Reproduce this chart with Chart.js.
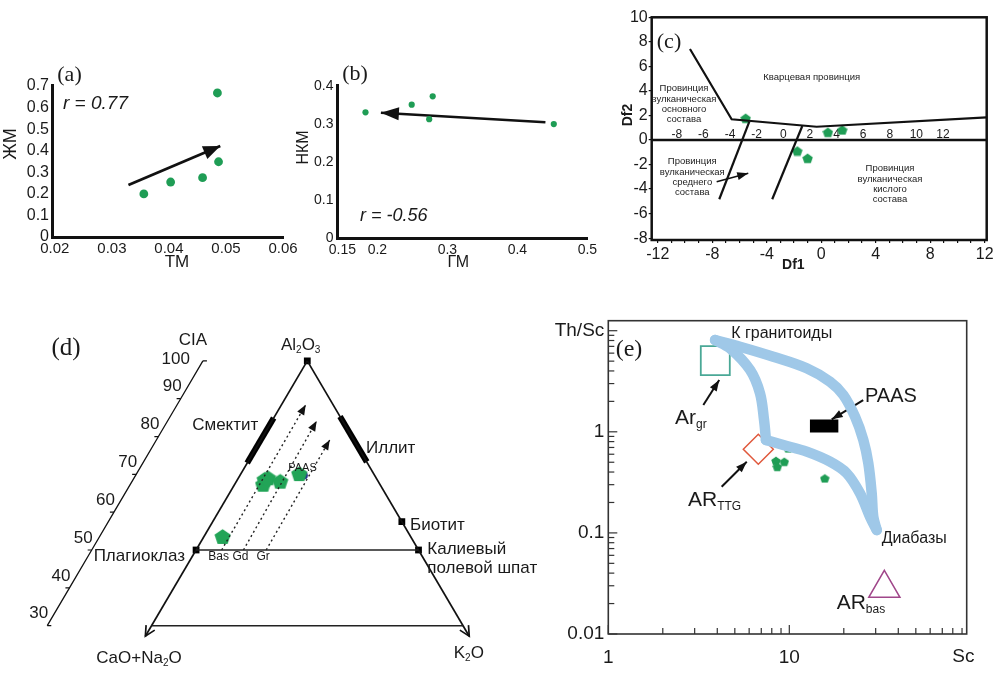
<!DOCTYPE html>
<html><head><meta charset="utf-8">
<script src="https://cdn.jsdelivr.net/npm/chart.js@4.4.1/dist/chart.umd.min.js"></script>
<style>
html,body{margin:0;padding:0;background:#fff;width:1004px;height:686px;overflow:hidden}
canvas{position:absolute;left:0;top:0}
</style></head><body>
<canvas id="ca" width="1004" height="686"></canvas>
<canvas id="cb" width="1004" height="686"></canvas>
<canvas id="cc" width="1004" height="686"></canvas>
<canvas id="cd" width="1004" height="686"></canvas>
<canvas id="ce" width="1004" height="686"></canvas>
<script>
// ================= DATA =================
// (a) ЖМ vs ТМ
const aTM = [0.0356, 0.0403, 0.0459, 0.0487, 0.0485];
const aZM = [0.200, 0.255, 0.275, 0.349, 0.668];
const aTrendTM = [0.0329, 0.0490];
const aTrendZM = [0.241, 0.422];
const aXTicks = [0.02, 0.03, 0.04, 0.05, 0.06];
const aYTicks = [0, 0.1, 0.2, 0.3, 0.4, 0.5, 0.6, 0.7];
// (b) НКМ vs ГМ
const bGM = [0.183, 0.249, 0.279, 0.274, 0.452];
const bNKM = [0.331, 0.351, 0.373, 0.313, 0.300];
const bTrendGM = [0.440, 0.205];
const bTrendNKM = [0.305, 0.330];
const bXTicks = [0.15, 0.2, 0.3, 0.4, 0.5];
const bYTicks = [0, 0.1, 0.2, 0.3, 0.4];
// (c) Df1 / Df2
const cDf1 = [-5.55, 0.49, 1.54, -1.76, -1.00];
const cDf2 = [1.77, 0.63, 0.82, -0.90, -1.49];
const cUpperDf1 = [-9.64, -6.58, -0.34, 12.15];
const cUpperDf2 = [7.42, 1.69, 1.08, 1.85];
const cMidDf1 = [-5.28, -7.49];
const cMidDf2 = [1.49, -4.83];
const cRightDf1 = [-1.39, -3.60];
const cRightDf2 = [1.14, -4.83];
const cArrowDf1 = [-7.68, -5.36];
const cArrowDf2 = [-3.40, -2.71];
const cZeroDf1 = [-12.45, 12.15];
const cZeroDf2 = [0, 0];
const cXTicks = [-12,-11,-10,-9,-8,-7,-6,-5,-4,-3,-2,-1,0,1,2,3,4,5,6,7,8,9,10,11,12];
const cYTicks = [-8, -6, -4, -2, 0, 2, 4, 6, 8, 10];
const cInnerTicks = [-8, -6, -4, -2, 0, 2, 4, 6, 8, 10, 12];
// (d) A–CN–K (x: position along CN–K, y: CIA)
const dSampleU = [22.8, 36.3, 35.8, 37.4, 41.3, 47.4];
const dSampleCIA = [53.6, 68.7, 67.4, 69.1, 68.2, 70.2];
const dPaasU = [48.9];
const dPaasCIA = [69.7];
const dLeftU = [50, -2.0];  const dLeftCIA = [100, 27.2];
const dRightU = [50, 102.0]; const dRightCIA = [100, 27.2];
const dBaseU = [0, 100];    const dBaseCIA = [30, 30];
const dFeldU = [14.29, 85.71]; const dFeldCIA = [50, 50];
const dMineralU = [50, 14.29, 85.71, 80.36];
const dMineralCIA = [100, 50, 50, 57.5];
const dSmectiteU = [30.7, 39.2]; const dSmectiteCIA = [73.0, 84.9];
const dIlliteU = [69.1, 60.5];   const dIlliteCIA = [73.3, 85.3];
const dTrendStartU = [22.5, 29.5, 36.8];
const dTrendStartCIA = [50, 50, 50];
const dTrendEndU = [49.5, 53.0, 57.2];
const dTrendEndCIA = [88.4, 84.1, 79.1];
const dTrendNames = ['Bas', 'Gd', 'Gr'];
const dCiaTicks = [30, 40, 50, 60, 70, 80, 90, 100];
// (e) Th/Sc vs Sc
const eSc = [9.87, 8.44, 9.38, 8.58, 15.7];
const eThSc = [0.685, 0.516, 0.505, 0.450, 0.346];
const eOuterSc = [3.89, 5.34, 8.16, 12.48, 16.79, 19.88, 23.07, 25.64, 27.32, 28.52, 29.1, 30.4];
const eOuterThSc = [8.09, 6.95, 5.53, 4.25, 3.13, 2.31, 1.41, 0.830, 0.488, 0.2464, 0.1446, 0.1068];
const eInnerSc = [3.89, 4.70, 6.07, 6.89, 7.25, 7.43];
const eInnerThSc = [8.09, 6.70, 4.09, 2.40, 1.31, 0.830];
const eLowerSc = [7.43, 9.27, 12.48, 16.79, 20.75, 24.58, 27.92, 30.4];
const eLowerThSc = [0.830, 0.740, 0.636, 0.506, 0.389, 0.2464, 0.1446, 0.1068];
const eArgrSc = [3.90];  const eArgrThSc = [5.07];
const eTTGSc = [6.74];   const eTTGThSc = [0.673];
const eBasSc = [33.5];   const eBasThSc = [0.0283];
const ePaasSc = [13.0, 18.66]; const ePaasThSc = [1.14, 1.14];
const eArrGrSc = [3.35, 4.10];   const eArrGrThSc = [1.84, 3.25];
const eArrTTGSc = [4.23, 5.82];  const eArrTTGThSc = [0.286, 0.506];
const eArrPaasSc = [25.6, 17.15]; const eArrPaasThSc = [2.06, 1.33];
const eXTicks = [1,2,3,4,5,6,7,8,9,10,20,30,40,50,60,70,80,90];
const eYTicks = [0.01,0.02,0.03,0.04,0.05,0.06,0.07,0.08,0.09,0.1,0.2,0.3,0.4,0.5,0.6,0.7,0.8,0.9,1,2,3,4,5,6,7,8,9,10];
const eXLabels = {1: '1', 10: '10'};
const eYLabels = {0.01: '0.01', 0.1: '0.1', 1: '1', 10: 'Th/Sc'};

// ================= HELPERS =================
const SANS = '"Liberation Sans", Arial, Helvetica, sans-serif';
const SERIF = '"Liberation Serif", "Times New Roman", serif';
const GREEN = '#1f9d55';
const INK = '#1a1a1a';
const xy = (xs, ys) => xs.map((x, i) => ({x: x, y: ys[i]}));
const fixedTicks = arr => function (s) { s.ticks = arr.map(v => ({value: v})); };

function pentagon(size, color) {
  const c = document.createElement('canvas');
  c.width = c.height = size;
  const g = c.getContext('2d');
  const r = size / 2;
  g.fillStyle = color;
  g.beginPath();
  for (let k = 0; k < 5; k++) {
    const a = -Math.PI / 2 + k * 2 * Math.PI / 5;
    const px = r + r * Math.cos(a), py = r + r * 0.1 + r * 0.95 * Math.sin(a);
    if (k) g.lineTo(px, py); else g.moveTo(px, py);
  }
  g.closePath(); g.fill();
  return c;
}

function makeText(items) {
  return {
    id: 'txt',
    afterDraw(chart) {
      const ctx = chart.ctx;
      items.forEach(it => {
        let x = it.x, y = it.y;
        if (it.data) {
          x = chart.scales.x.getPixelForValue(it.x) + (it.dx || 0);
          y = chart.scales.y.getPixelForValue(it.y) + (it.dy || 0);
        }
        const size = it.size || 14;
        const fam = it.serif ? SERIF : SANS;
        const style = (it.italic ? 'italic ' : '') + (it.bold ? 'bold ' : '');
        const parts = Array.isArray(it.t) ? it.t : [[it.t, 0]];
        ctx.save();
        ctx.fillStyle = it.color || INK;
        ctx.textBaseline = 'middle';
        ctx.textAlign = 'left';
        ctx.translate(x, y);
        if (it.rot) ctx.rotate(it.rot);
        let total = 0;
        const ws = parts.map(p => {
          ctx.font = style + (p[1] ? Math.round(size * 0.58) : size) + 'px ' + fam;
          const w = ctx.measureText(p[0]).width; total += w; return w;
        });
        let cx = it.align === 'right' ? -total : (it.align === 'left' ? 0 : -total / 2);
        parts.forEach((p, i) => {
          ctx.font = style + (p[1] ? Math.round(size * 0.58) : size) + 'px ' + fam;
          ctx.fillText(p[0], cx, p[1] ? size * 0.32 : 0);
          cx += ws[i];
        });
        ctx.restore();
      });
    }
  };
}

const arrowPlugin = {
  id: 'arrowheads',
  afterDatasetsDraw(chart) {
    const ctx = chart.ctx;
    chart.data.datasets.forEach((ds, i) => {
      if (!ds.head) return;
      const pts = chart.getDatasetMeta(i).data;
      const a = pts[pts.length - 2], b = pts[pts.length - 1];
      const ang = Math.atan2(b.y - a.y, b.x - a.x);
      const L = ds.head.len, W = ds.head.w / 2;
      const bx = b.x - L * Math.cos(ang), by = b.y - L * Math.sin(ang);
      const p1 = [bx + W * Math.sin(ang), by - W * Math.cos(ang)];
      const p2 = [bx - W * Math.sin(ang), by + W * Math.cos(ang)];
      ctx.save();
      ctx.fillStyle = ctx.strokeStyle = ds.head.color || ds.borderColor;
      ctx.beginPath();
      if (ds.head.open) {
        ctx.lineWidth = ds.borderWidth; ctx.setLineDash([]);
        ctx.moveTo(p1[0], p1[1]); ctx.lineTo(b.x, b.y); ctx.lineTo(p2[0], p2[1]); ctx.stroke();
      } else {
        ctx.moveTo(b.x, b.y); ctx.lineTo(p1[0], p1[1]); ctx.lineTo(p2[0], p2[1]); ctx.closePath(); ctx.fill();
      }
      ctx.restore();
    });
  }
};

function makeFrame(width, color) {
  return {
    id: 'frame',
    afterDatasetsDraw(chart) {
      const {left, top, right, bottom} = chart.chartArea;
      const ctx = chart.ctx;
      ctx.save(); ctx.lineWidth = width; ctx.strokeStyle = color;
      ctx.strokeRect(left, top, right - left, bottom - top); ctx.restore();
    }
  };
}

const innerTicks = {
  id: 'innerTicks',
  afterDraw(chart) {
    const ctx = chart.ctx, ca = chart.chartArea;
    ctx.save(); ctx.strokeStyle = '#333'; ctx.lineWidth = 1.2;
    chart.scales.x.ticks.forEach(t => {
      const px = chart.scales.x.getPixelForValue(t.value);
      const len = eXLabels[t.value] ? 9 : 6;
      ctx.beginPath(); ctx.moveTo(px, ca.bottom); ctx.lineTo(px, ca.bottom - len); ctx.stroke();
    });
    chart.scales.y.ticks.forEach(t => {
      const py = chart.scales.y.getPixelForValue(t.value);
      const len = eYLabels[t.value] ? 9 : 6;
      ctx.beginPath(); ctx.moveTo(ca.left, py); ctx.lineTo(ca.left + len, py); ctx.stroke();
    });
    ctx.restore();
  }
};

function opts(pad, scales) {
  return {
    responsive: false, maintainAspectRatio: false, animation: false, devicePixelRatio: 1, events: [],
    layout: {padding: pad},
    plugins: {legend: {display: false}, tooltip: {enabled: false}},
    scales: scales
  };
}
const line = (xs, ys, color, width, extra) => Object.assign({
  data: xy(xs, ys), showLine: true, borderColor: color, borderWidth: width,
  pointRadius: 0, fill: false, tension: 0
}, extra || {});

// ================= (a) =================
new Chart(document.getElementById('ca'), {
  type: 'scatter',
  data: {datasets: [
    {data: xy(aTM, aZM), backgroundColor: GREEN, borderColor: GREEN, pointRadius: 4.4, pointBorderWidth: 0},
    line(aTrendTM, aTrendZM, '#111', 2.8, {head: {len: 17, w: 14}})
  ]},
  options: opts({left: 7, top: 85, right: 721, bottom: 409}, {
    x: {type: 'linear', min: 0.0195, max: 0.06, afterBuildTicks: fixedTicks(aXTicks), afterFit(s) { s.height = 40; },
        grid: {display: false, drawTicks: false}, border: {display: true, color: '#111', width: 3},
        ticks: {padding: 3, autoSkip: false, maxRotation: 0, color: INK, font: {family: SANS, size: 15},
                callback: v => Number(v).toFixed(2)}},
    y: {type: 'linear', min: 0, max: 0.705, afterBuildTicks: fixedTicks(aYTicks), afterFit(s) { s.width = 45; },
        grid: {display: false, drawTicks: false}, border: {display: true, color: '#111', width: 3},
        ticks: {padding: 3, autoSkip: false, color: INK, font: {family: SANS, size: 16},
                callback: v => v === 0 ? '0' : Number(v).toFixed(1)}}
  }),
  plugins: [arrowPlugin, makeText([
    {t: '(a)', x: 69.5, y: 75, size: 22, serif: true},
    {t: 'r = 0.77', x: 63, y: 103.5, size: 19, italic: true, align: 'left'},
    {t: 'ЖМ', x: 11, y: 144, size: 18, rot: -Math.PI / 2},
    {t: 'ТМ', x: 177, y: 262.5, size: 17}
  ])]
});

// ================= (b) =================
new Chart(document.getElementById('cb'), {
  type: 'scatter',
  data: {datasets: [
    {data: xy(bGM, bNKM), backgroundColor: GREEN, borderColor: GREEN, pointRadius: 3.1, pointBorderWidth: 0},
    line(bTrendGM, bTrendNKM, '#111', 2.6, {head: {len: 18, w: 13}})
  ]},
  options: opts({left: 297.5, top: 85.3, right: 416.6, bottom: 407.7}, {
    x: {type: 'linear', min: 0.143, max: 0.5, afterBuildTicks: fixedTicks(bXTicks), afterFit(s) { s.height = 40; },
        grid: {display: false, drawTicks: false}, border: {display: true, color: '#111', width: 3},
        ticks: {padding: 3, autoSkip: false, maxRotation: 0, color: INK, font: {family: SANS, size: 14},
                callback: v => String(Number(v))}},
    y: {type: 'linear', min: 0, max: 0.402, afterBuildTicks: fixedTicks(bYTicks), afterFit(s) { s.width = 40; },
        grid: {display: false, drawTicks: false}, border: {display: true, color: '#111', width: 3},
        ticks: {padding: 4, autoSkip: false, color: INK, font: {family: SANS, size: 14},
                callback: v => v === 0 ? '0' : Number(v).toFixed(1)}}
  }),
  plugins: [arrowPlugin, makeText([
    {t: '(b)', x: 355, y: 74.5, size: 22, serif: true},
    {t: 'r = -0.56', x: 360, y: 216, size: 18, italic: true, align: 'left'},
    {t: 'НКМ', x: 304, y: 147.5, size: 16, rot: -Math.PI / 2},
    {t: 'ГМ', x: 458.3, y: 262.5, size: 16}
  ])]
});

// ================= (c) =================
const pentC = pentagon(11, GREEN);
new Chart(document.getElementById('cc'), {
  type: 'scatter',
  data: {datasets: [
    line(cZeroDf1, cZeroDf2, '#111', 2.5),
    line(cUpperDf1, cUpperDf2, '#111', 2.2),
    line(cMidDf1, cMidDf2, '#111', 2.2),
    line(cRightDf1, cRightDf2, '#111', 2.2),
    line(cArrowDf1, cArrowDf2, '#111', 1.6, {head: {len: 11, w: 8}}),
    {data: xy(cDf1, cDf2), pointStyle: pentC, pointRadius: 5, backgroundColor: GREEN, borderColor: GREEN}
  ]},
  options: opts({left: 611.7, top: 17.3, right: 17.3, bottom: 406}, {
    x: {type: 'linear', min: -12.45, max: 12.15, afterBuildTicks: fixedTicks(cXTicks), afterFit(s) { s.height = 40; },
        grid: {display: true, drawOnChartArea: false, drawTicks: true, tickLength: 3, color: '#111', lineWidth: 1.2},
        border: {display: false},
        ticks: {padding: 2, autoSkip: false, maxRotation: 0, color: INK, font: {family: SANS, size: 16},
                callback: v => (v % 4 === 0 ? String(v) : '')}},
    y: {type: 'linear', min: -8.15, max: 10, afterBuildTicks: fixedTicks(cYTicks), afterFit(s) { s.width = 40; },
        grid: {display: true, drawOnChartArea: false, drawTicks: true, tickLength: 3, color: '#111', lineWidth: 1.2},
        border: {display: false},
        ticks: {padding: 1, autoSkip: false, color: INK, font: {family: SANS, size: 16}, callback: v => String(v)}},
    x2: {type: 'linear', axis: 'x', position: {y: 0}, min: -9.89, max: 15.29, afterBuildTicks: fixedTicks(cInnerTicks),
         grid: {display: false, drawTicks: false}, border: {display: false},
         ticks: {padding: -13, autoSkip: false, maxRotation: 0, color: INK, font: {family: SANS, size: 12},
                 callback: v => String(v)}}
  }),
  plugins: [arrowPlugin, makeFrame(2.5, '#111'), makeText([
    {t: '(c)', x: 669, y: 42, size: 22, serif: true},
    {t: 'Кварцевая провинция', x: 811.7, y: 77.3, size: 9.5, color: '#222'},
    {t: 'Провинция', x: 684, y: 88.3, size: 9.5, color: '#222'},
    {t: 'вулканическая', x: 684, y: 99, size: 9.5, color: '#222'},
    {t: 'основного', x: 684, y: 109.3, size: 9.5, color: '#222'},
    {t: 'состава', x: 684, y: 119.3, size: 9.5, color: '#222'},
    {t: 'Провинция', x: 692.3, y: 161.7, size: 9.5, color: '#222'},
    {t: 'вулканическая', x: 692.3, y: 172.3, size: 9.5, color: '#222'},
    {t: 'среднего', x: 692.3, y: 182.7, size: 9.5, color: '#222'},
    {t: 'состава', x: 692.3, y: 192.7, size: 9.5, color: '#222'},
    {t: 'Провинция', x: 890, y: 168.3, size: 9.5, color: '#222'},
    {t: 'вулканическая', x: 890, y: 179, size: 9.5, color: '#222'},
    {t: 'кислого', x: 890, y: 189.3, size: 9.5, color: '#222'},
    {t: 'состава', x: 890, y: 199.3, size: 9.5, color: '#222'},
    {t: 'Df2', x: 628, y: 115, size: 14, bold: true, rot: -Math.PI / 2},
    {t: 'Df1', x: 793.3, y: 265, size: 14, bold: true}
  ])]
});

// ================= (d) =================
const ciaU = v => (v - 30) * 0.714 - 33.5;   // slanted CIA axis, parallel to the A–CN side
const ciaLine = xy(dCiaTicks.map(ciaU), dCiaTicks);
const ciaTickPts = [];
dCiaTicks.forEach(v => {
  const u = ciaU(v), d = (v === 30 || v === 100) ? 1.3 : -1.3;
  ciaTickPts.push({x: u, y: v}, {x: u + d, y: v}, {x: null, y: null});
});
const pentD = pentagon(17, '#22a457');
const dDatasets = [
  line(dBaseU, dBaseCIA, '#222', 1.5),
  line(dFeldU, dFeldCIA, '#222', 1.5),
  line(dLeftU, dLeftCIA, '#111', 1.7, {head: {len: 10, w: 10, open: true}}),
  line(dRightU, dRightCIA, '#111', 1.7, {head: {len: 10, w: 10, open: true}}),
  line(dSmectiteU, dSmectiteCIA, '#000', 6),
  line(dIlliteU, dIlliteCIA, '#000', 6),
  {data: ciaLine, showLine: true, borderColor: '#111', borderWidth: 1.3, pointRadius: 0},
  {data: ciaTickPts, showLine: true, borderColor: '#111', borderWidth: 1.2, pointRadius: 0, spanGaps: false}
];
dTrendStartU.forEach((u, i) => {
  dDatasets.push(line([u, dTrendEndU[i]], [dTrendStartCIA[i], dTrendEndCIA[i]], '#222', 1.4,
    {borderDash: [2, 3], head: {len: 10, w: 8, color: '#111'}}));
});
dDatasets.push(
  {data: xy(dMineralU, dMineralCIA), pointStyle: 'rect', pointRadius: 4.8, backgroundColor: '#000', borderColor: '#000', borderWidth: 0},
  {data: xy(dSampleU, dSampleCIA), pointStyle: pentD, pointRadius: 8, backgroundColor: GREEN},
  {data: xy(dPaasU, dPaasCIA), pointRadius: 4, backgroundColor: '#2b3590', borderColor: '#2b3590', borderWidth: 0}
);
const dTexts = [
  {t: '(d)', x: 66, y: 348, size: 25, serif: true},
  {t: 'CIA', x: 193, y: 340, size: 17},
  {t: [['Al', 0], ['2', 1], ['O', 0], ['3', 1]], x: 300.7, y: 345, size: 17},
  {t: 'Смектит', x: 258.3, y: 425, size: 17, align: 'right'},
  {t: 'Иллит', x: 366, y: 448.3, size: 17, align: 'left'},
  {t: 'Биотит', x: 410, y: 525, size: 17, align: 'left'},
  {t: 'Калиевый', x: 427.3, y: 549.3, size: 17, align: 'left'},
  {t: 'полевой шпат', x: 427.3, y: 568.3, size: 17, align: 'left'},
  {t: 'Плагиоклаз', x: 185, y: 556, size: 17, align: 'right'},
  {t: [['CaO+Na', 0], ['2', 1], ['O', 0]], x: 139, y: 658.3, size: 17},
  {t: [['K', 0], ['2', 1], ['O', 0]], x: 468.8, y: 653.3, size: 17},
  {t: 'PAAS', x: 302.5, y: 468.3, size: 11}
];
dTrendNames.forEach((n, i) => dTexts.push({t: n, data: true, x: dTrendStartU[i], y: dTrendStartCIA[i], dy: 6.5, dx: -3, size: 12}));
dCiaTicks.forEach(v => dTexts.push(v === 100
  ? {t: String(v), data: true, x: ciaU(v), y: v, dx: -13, dy: -2, size: 17, align: 'right'}
  : {t: String(v), data: true, x: ciaU(v), y: v, dx: 1, dy: -12, size: 17, align: 'right'}));
new Chart(document.getElementById('cd'), {
  type: 'scatter',
  data: {datasets: dDatasets},
  options: opts({left: 0, top: 330, right: 464, bottom: 0}, {
    x: {type: 'linear', display: false, min: -45.78, max: 124.72},
    y: {type: 'linear', display: false, min: 16.42, max: 108.17}
  }),
  plugins: [arrowPlugin, makeText(dTexts)]
});

// ================= (e) =================
const pentE = pentagon(10, GREEN);
const band = (xs, ys) => line(xs, ys, '#9fc8e8', 10.5, {tension: 0.35, borderCapStyle: 'round', borderJoinStyle: 'round'});
new Chart(document.getElementById('ce'), {
  type: 'scatter',
  data: {datasets: [
    band(eOuterSc, eOuterThSc),
    band(eInnerSc, eInnerThSc),
    band(eLowerSc, eLowerThSc),
    line(ePaasSc, ePaasThSc, '#000', 13, {borderCapStyle: 'butt'}),
    {data: xy(eArgrSc, eArgrThSc), pointStyle: 'rect', pointRadius: 20.5, backgroundColor: 'rgba(0,0,0,0)', borderColor: '#4aa896', borderWidth: 1.8},
    {data: xy(eTTGSc, eTTGThSc), pointStyle: 'rectRot', pointRadius: 15, backgroundColor: 'rgba(0,0,0,0)', borderColor: '#e0583c', borderWidth: 1.5},
    {data: xy(eBasSc, eBasThSc), pointStyle: 'triangle', pointRadius: 18, backgroundColor: 'rgba(0,0,0,0)', borderColor: '#a0478a', borderWidth: 1.5},
    line(eArrGrSc, eArrGrThSc, '#111', 2, {head: {len: 11, w: 8}}),
    line(eArrTTGSc, eArrTTGThSc, '#111', 2, {head: {len: 11, w: 8}}),
    line(eArrPaasSc, eArrPaasThSc, '#111', 2, {head: {len: 11, w: 8}}),
    {data: xy(eSc, eThSc), pointStyle: pentE, pointRadius: 5, backgroundColor: GREEN}
  ]},
  options: opts({left: 548.3, top: 320.7, right: 37.3, bottom: 0}, {
    x: {type: 'logarithmic', min: 1, max: 95.5, afterBuildTicks: fixedTicks(eXTicks), afterFit(s) { s.height = 52; },
        grid: {display: false, drawTicks: false}, border: {display: false},
        ticks: {padding: 12.6, autoSkip: false, maxRotation: 0, color: INK, font: {family: SANS, size: 19},
                callback: v => eXLabels[v] || ''}},
    y: {type: 'logarithmic', min: 0.01, max: 12.56, afterBuildTicks: fixedTicks(eYTicks), afterFit(s) { s.width = 60; },
        grid: {display: false, drawTicks: false}, border: {display: false},
        ticks: {padding: 4, autoSkip: false, color: INK, font: {family: SANS, size: 19},
                callback: v => eYLabels[v] || ''}}
  }),
  plugins: [arrowPlugin, makeFrame(1.6, '#333'), innerTicks, makeText([
    {t: '(e)', x: 629, y: 350, size: 24, serif: true},
    {t: 'К гранитоиды', x: 781.7, y: 333.3, size: 16},
    {t: [['Ar', 0], ['gr', 1]], x: 675, y: 418.3, size: 21, align: 'left'},
    {t: [['AR', 0], ['TTG', 1]], x: 688, y: 500, size: 21, align: 'left'},
    {t: 'PAAS', x: 865, y: 396.7, size: 20, align: 'left'},
    {t: 'Диабазы', x: 881.7, y: 538.3, size: 16, align: 'left'},
    {t: [['AR', 0], ['bas', 1]], x: 836.7, y: 603.3, size: 21, align: 'left'},
    {t: 'Sc', x: 963.3, y: 657, size: 19}
  ])]
});
</script>
</body></html>
